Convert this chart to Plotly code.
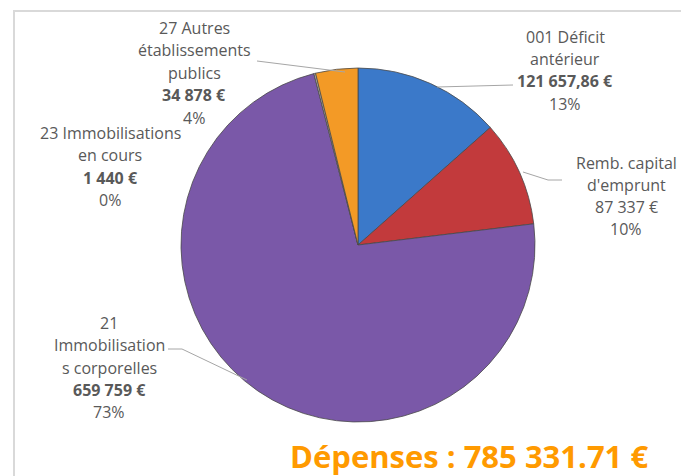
import plotly.graph_objects as go

# ---- data ----
categories = ["001 Déficit antérieur", "Remb. capital d'emprunt",
              "21 Immobilisations corporelles", "23 Immobilisations en cours",
              "27 Autres établissements publics"]
values = [121657.86, 87337, 659759, 1440, 34878]
label_lines = [["001 Déficit", "antérieur"],
               ["Remb. capital", "d'emprunt"],
               ["21", "Immobilisation", "s corporelles"],
               ["23 Immobilisations", "en cours"],
               ["27 Autres", "établissements", "publics"]]
value_bold = [True, False, True, True, True]
total_label = "Dépenses : 785 331.71 €"

colors = ["#3B79C9", "#C23A3C", "#7A58A8", "#B9B3A8", "#F39A26"]

W, H = 681, 476


def px(x, y):
    return x / W, 1 - y / H


def fmt_val(v):
    if float(v).is_integer():
        s = f"{int(v):,}".replace(",", " ")
    else:
        s = f"{v:,.2f}".replace(",", " ").replace(".", ",")
    return s + " €"


total = sum(values)
pcts = [f"{round(v / total * 100)}%" for v in values]

# pie geometry (px)
cx, cy, r = 358, 245, 177
x0, yt = px(cx - r, cy - r)
x1, yb = px(cx + r, cy + r)

fig = go.Figure(go.Pie(
    labels=categories, values=values, sort=False, direction="clockwise",
    rotation=0, textinfo="none", hole=0,
    marker=dict(colors=colors, line=dict(color="#4a4a4a", width=0.8)),
    domain=dict(x=[x0, x1], y=[yb, yt]), showlegend=False,
))

# label anchor layout (center x, first line y, line step) in px
anchors = [(565, 37, 22.2), (626, 163, 22), (109, 323, 22.3), (110, 133, 22.3), (194, 28, 22.5)]

annotations = []
for i, (ax, ay, step) in enumerate(anchors):
    lines = list(label_lines[i])
    vtxt = fmt_val(values[i])
    lines.append(f"<b>{vtxt}</b>" if value_bold[i] else vtxt)
    lines.append(pcts[i])
    for k, t in enumerate(lines):
        xx, yy = px(ax, ay + k * step)
        annotations.append(dict(x=xx, y=yy, xref="paper", yref="paper", text=t,
                                showarrow=False, xanchor="center", yanchor="middle",
                                font=dict(family="Open Sans", size=16, color="#595959")))

tx, ty = px(469, 456)
annotations.append(dict(x=tx, y=ty, xref="paper", yref="paper", text=f"<b>{total_label}</b>",
                        showarrow=False, xanchor="center", yanchor="middle",
                        font=dict(family="Open Sans", size=31, color="#FF9A00")))

shapes = []
# frame
fx0, fy0 = px(14, 11)
fx1, fy1 = px(700, 500)
shapes.append(dict(type="rect", xref="paper", yref="paper", x0=fx0, y0=fy1, x1=fx1, y1=fy0,
                   line=dict(color="#D9D9D9", width=2), fillcolor="rgba(0,0,0,0)", layer="below"))

# leader lines
leaders = [[(437, 87), (513, 85)],
           [(523, 172), (548, 180), (562, 180)],
           [(168, 349), (182, 349), (247, 380)],
           [(257, 61), (345, 72)]]
for pts in leaders:
    path = ""
    for j, (lx, ly) in enumerate(pts):
        X, Y = px(lx, ly)
        path += ("M" if j == 0 else " L") + f" {X} {Y}"
    shapes.append(dict(type="path", xref="paper", yref="paper", path=path,
                       line=dict(color="#A6A6A6", width=1)))

fig.update_layout(width=W, height=H, margin=dict(l=0, r=0, t=0, b=0),
                  paper_bgcolor="white", plot_bgcolor="white",
                  annotations=annotations, shapes=shapes)

fig.write_html("out.html", config={"displayModeBar": False},
               post_script="document.body.style.margin='0px';document.body.style.overflow='hidden';")
